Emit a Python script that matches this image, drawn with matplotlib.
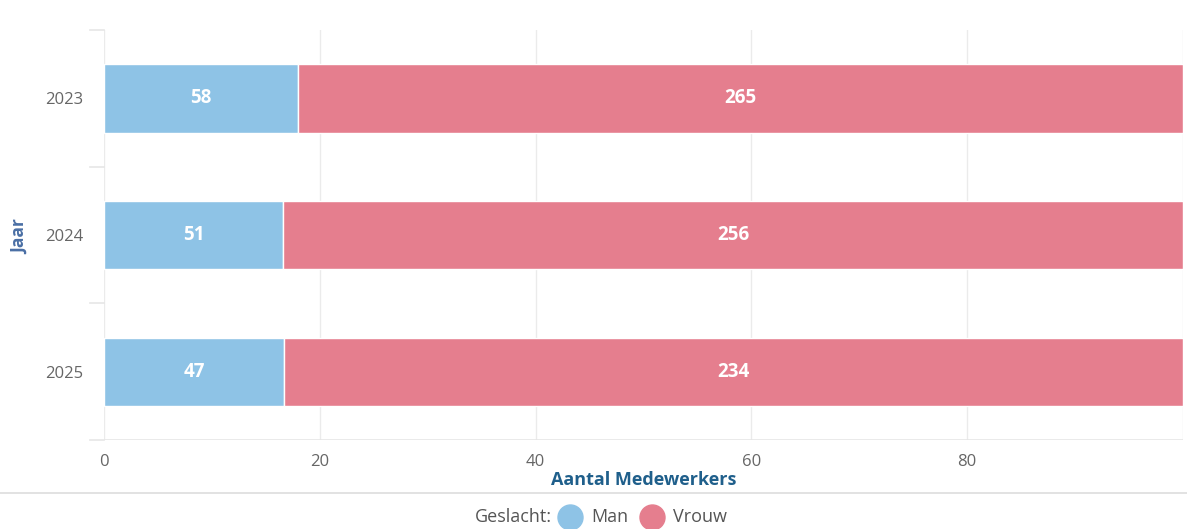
import matplotlib.pyplot as plt
from matplotlib.lines import Line2D
import numpy as np

plt.rcParams['font.family'] = ['Open Sans', 'DejaVu Sans']

years = ['2023', '2024', '2025']
man = [58, 51, 47]
vrouw = [265, 256, 234]
xticks = [0, 20, 40, 60, 80]

blue = '#8ec3e6'
pink = '#e57e8e'
grey = '#666666'

man_a = np.array(man, dtype=float)
vrouw_a = np.array(vrouw, dtype=float)
tot = man_a + vrouw_a
man_p = man_a / tot * 100
vrouw_p = vrouw_a / tot * 100

W, H = 1187, 529
fig = plt.figure(figsize=(W / 100, H / 100), dpi=100)
ax = fig.add_axes([104/W, 1 - 440/H, 1079/W, 410/H])

y = np.arange(len(years))
h = 0.5
ax.barh(y, man_p, height=h, color=blue, edgecolor='white', linewidth=1, zorder=3)
ax.barh(y, vrouw_p, left=man_p, height=h, color=pink, edgecolor='white', linewidth=1, zorder=3)

for i in range(len(years)):
    ax.text(man_p[i] / 2, y[i], str(man[i]), ha='center', va='center',
            color='white', fontsize=13.5, fontweight='bold', zorder=4)
    ax.text(man_p[i] + vrouw_p[i] / 2, y[i], str(vrouw[i]), ha='center', va='center',
            color='white', fontsize=13.5, fontweight='bold', zorder=4)

ax.set_xlim(0, 100)
ax.set_ylim(2.5, -0.5)
ax.set_xticks(xticks)
ax.set_xticklabels([str(t) for t in xticks], color=grey, fontsize=12)
ax.set_yticks(y)
ax.set_yticklabels(years, color=grey, fontsize=12)
ax.tick_params(axis='x', length=0, pad=10)
ax.tick_params(axis='y', length=0, pad=15)

for v in xticks + [100]:
    ax.axvline(v, color='#ebebeb', linewidth=1, zorder=1)
for s in ax.spines.values():
    s.set_visible(False)
ax.axhline(2.5, color='#e6e6e6', linewidth=1.2, zorder=1)
# category ticks on the left
for b in [-0.5, 0.5, 1.5, 2.5]:
    ax.plot([-1.3, 0], [b, b], color='#e6e6e6', linewidth=1.2, clip_on=False, zorder=1)

ax.set_xlabel('Aantal Medewerkers', color='#1f5f8b', fontsize=13, fontweight='bold', labelpad=1)
fig.text(20/W, 1 - 237/H, 'Jaar', rotation=90, ha='center', va='center',
         color='#4a6fa5', fontsize=12.5, fontweight='bold')

# separator line above legend
fig.add_artist(Line2D([0, 1], [1 - 493/H, 1 - 493/H], color='#dddddd', linewidth=1.2))

# legend
ly = 1 - 517/H
fig.text(552/W, ly, 'Geslacht:', ha='right', va='center', color='#555555', fontsize=13)
for lab, col, cx in [('Man', blue, 570), ('Vrouw', pink, 652)]:
    fig.add_artist(Line2D([cx/W], [ly], marker='o', markersize=18, color=col, linestyle=''))
    fig.text((cx + 21)/W, ly, lab, ha='left', va='center', color='#555555', fontsize=13)

fig.savefig('out.png', dpi=100)
